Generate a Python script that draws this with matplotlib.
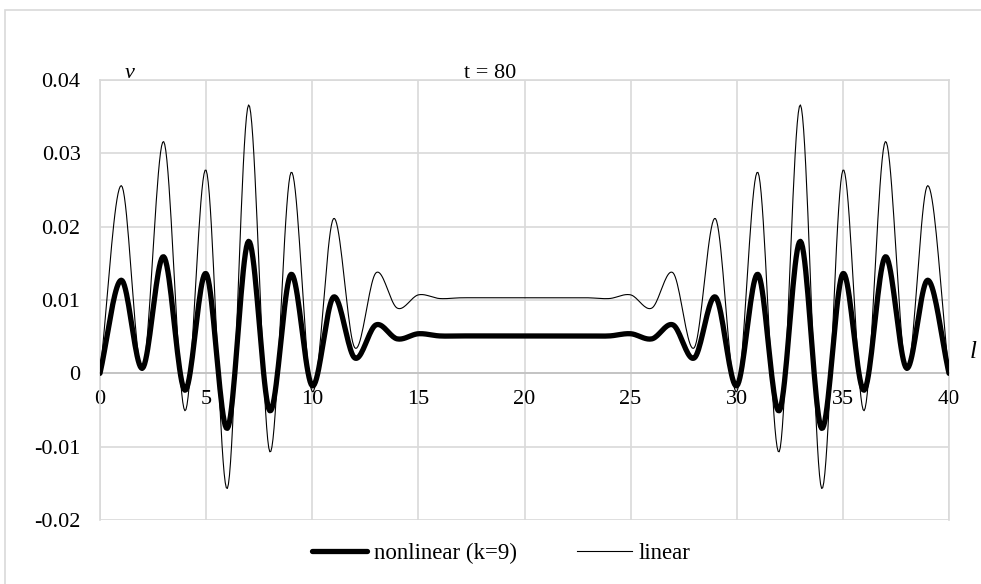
import numpy as np
import matplotlib.pyplot as plt

# values read at integer positions l = 0..40 (symmetric about l = 20)
l_pos = list(range(41))
linear = [0, 0.0256, 0.0004, 0.0316, -0.0051, 0.0277, -0.0157, 0.0366, -0.0107, 0.0274,
          -0.0025, 0.0211, 0.0035, 0.0137, 0.0089, 0.0107, 0.0102, 0.0103, 0.0103, 0.0103,
          0.0103,
          0.0103, 0.0103, 0.0103, 0.0102, 0.0107, 0.0089, 0.0137, 0.0035, 0.0211, -0.0025,
          0.0274, -0.0107, 0.0366, -0.0157, 0.0277, -0.0051, 0.0316, 0.0004, 0.0256, 0]
nonlinear = [0, 0.0127, 0.0007, 0.0159, -0.0023, 0.0136, -0.0075, 0.0180, -0.0051, 0.0135,
             -0.0017, 0.0104, 0.0021, 0.0066, 0.0047, 0.0054, 0.0051, 0.0051, 0.0051, 0.0051,
             0.0051,
             0.0051, 0.0051, 0.0051, 0.0051, 0.0054, 0.0047, 0.0066, 0.0021, 0.0104, -0.0017,
             0.0135, -0.0051, 0.0180, -0.0075, 0.0136, -0.0023, 0.0159, 0.0007, 0.0127, 0]


def smooth(x, y, n=20):
    # Catmull-Rom curve through the points, like a spreadsheet "smoothed line"
    x = np.asarray(x, float)
    y = np.asarray(y, float)
    px = np.concatenate([[2 * x[0] - x[1]], x, [2 * x[-1] - x[-2]]])
    py = np.concatenate([[2 * y[0] - y[1]], y, [2 * y[-1] - y[-2]]])
    xs, ys = [], []
    t = np.linspace(0, 1, n, endpoint=False)
    for i in range(1, len(px) - 2):
        for p, out in ((px, xs), (py, ys)):
            p0, p1, p2, p3 = p[i - 1], p[i], p[i + 1], p[i + 2]
            out.extend(0.5 * (2 * p1 + (-p0 + p2) * t + (2 * p0 - 5 * p1 + 4 * p2 - p3) * t ** 2
                              + (-p0 + 3 * p1 - 3 * p2 + p3) * t ** 3))
    xs.append(x[-1])
    ys.append(y[-1])
    return np.array(xs), np.array(ys)


plt.rcParams['font.family'] = ['Liberation Serif', 'DejaVu Serif']
fig = plt.figure(figsize=(9.81, 5.84), dpi=100)
ax = fig.add_axes([100 / 981, 1 - 520 / 584, 849 / 981, 440 / 584])

grid_c = '#d9d9d9'
x1, y1 = smooth(l_pos, nonlinear)
x2, y2 = smooth(l_pos, linear)
ax.plot(x1, y1, color='black', linewidth=3.8, solid_capstyle='round', label='nonlinear (k=9)', zorder=3)
ax.plot(x2, y2, color='black', linewidth=0.8, label='linear', zorder=4)

ax.set_xlim(0, 40)
ax.set_ylim(-0.02, 0.04)
ax.set_xticks(range(0, 41, 5))
ax.set_yticks([-0.02, -0.01, 0, 0.01, 0.02, 0.03, 0.04])
ax.set_yticklabels(['-0.02', '-0.01', '0', '0.01', '0.02', '0.03', '0.04'])
ax.grid(True, color=grid_c, linewidth=1.2)
ax.set_axisbelow(True)
for s in ['top', 'right', 'left']:
    ax.spines[s].set_color(grid_c)
    ax.spines[s].set_linewidth(1.2)
ax.spines['bottom'].set_position(('data', 0))
ax.spines['bottom'].set_color('#bfbfbf')
ax.spines['bottom'].set_linewidth(1.2)
ax.tick_params(axis='both', length=0, labelsize=16)
ax.tick_params(axis='y', pad=14)
ax.tick_params(axis='x', pad=12)

fig.text(130 / 981, 1 - 73 / 584, 'v', fontsize=16, style='italic', ha='center', va='center')
fig.text(490 / 981, 1 - 73 / 584, 't = 80', fontsize=16, ha='center', va='center')
fig.text(973 / 981, 1 - 352 / 584, 'l', fontsize=18, style='italic', ha='center', va='center')

fig.legend(loc='center', bbox_to_anchor=(0.511, 1 - 553 / 584), ncol=2, frameon=False,
           fontsize=16.5, handlelength=2.4, handletextpad=0.3, columnspacing=2.6)

# outer chart border
fig.add_artist(plt.Rectangle((5 / 981, -0.1), 1.0, 1.1 - 10 / 584, transform=fig.transFigure,
                             fill=False, edgecolor=grid_c, linewidth=1.2))

fig.savefig('out.png', dpi=100)
